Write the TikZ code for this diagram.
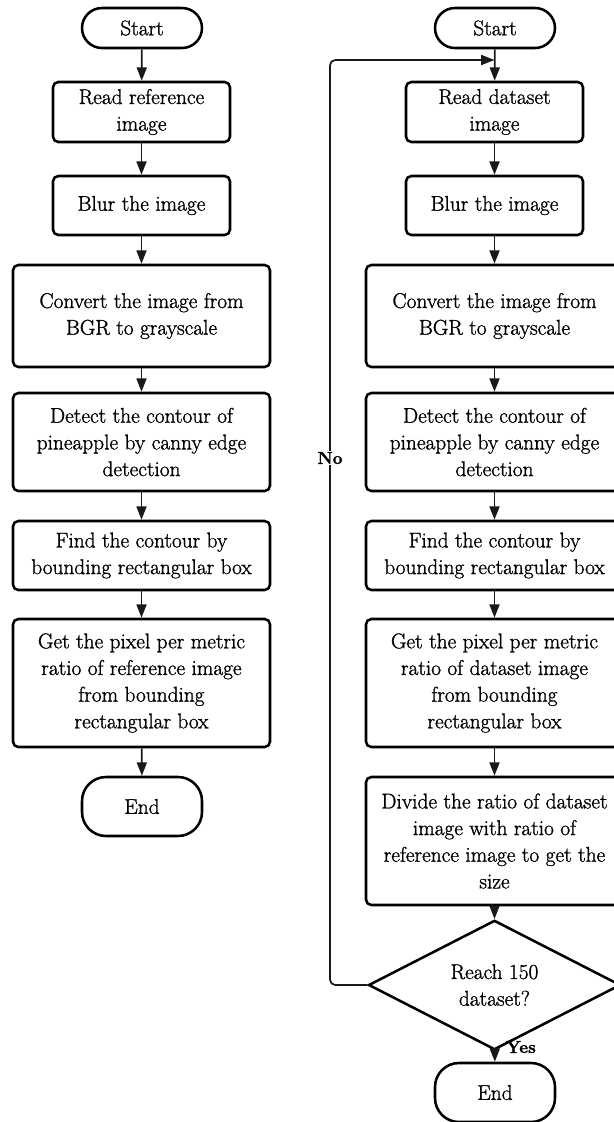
\documentclass[tikz,border=0pt]{standalone}
\usepackage{fontspec}
\usetikzlibrary{arrows.meta,shapes.geometric}
\newfontfamily\boxfont{Latin Modern Roman}[FakeBold=1.2]
\newfontfamily\lblfont{Latin Modern Roman}[FakeBold=1.5]
\newcommand\mfont{\boxfont\fontsize{16}{20}\selectfont}
\newcommand\lfont{\lblfont\fontsize{13}{15}\selectfont\bfseries}
\begin{document}
\begin{tikzpicture}[x=0.75pt,y=-0.75pt,
  pbox/.style={draw=black, line width=1.9pt, rounded corners=4pt, align=center, inner sep=0pt, font=\mfont},
  narrow/.style={pbox, minimum width=132.75pt},
  wide/.style={pbox, minimum width=192.75pt},
  term/.style={pbox, minimum width=90pt},
  decision/.style={draw=black, line width=1.9pt, shape=diamond, minimum width=189pt, minimum height=72pt, inner sep=0pt, align=center, font=\mfont},
  arr/.style={draw=black!90, line width=1.3pt, -{Triangle[length=10pt,width=7.5pt]}},
  lbl/.style={font=\lfont, inner sep=1pt}
]
\useasboundingbox (0,0) rectangle (614,1122);
\clip (0,0) rectangle (614,1122);
% left column
\node[term, minimum height=30pt, rounded corners=15pt] (lstart) at (142,28) {Start};
\node[narrow, minimum height=45pt] (lread) at (141.5,112) {Read reference\\image};
\node[narrow, minimum height=44.25pt] (lblur) at (141.5,205.5) {Blur the image};
\node[wide, minimum height=76.5pt] (lconv) at (141.5,316) {Convert the image from\\BGR to grayscale};
\node[wide, minimum height=73.5pt] (ldet) at (141.5,442) {Detect the contour of\\pineapple by canny edge\\detection};
\node[wide, minimum height=51.75pt] (lfind) at (141.5,555.5) {Find the contour by\\bounding rectangular box};
\node[wide, minimum height=96pt] (lget) at (141.5,683) {Get the pixel per metric\\ratio of reference image\\from bounding\\rectangular box};
\node[term, minimum height=44.25pt, rounded corners=18pt] (lend) at (142,806.5) {End};
\draw[arr] (lstart) -- (lread);
\draw[arr] (lread) -- (lblur);
\draw[arr] (lblur) -- (lconv);
\draw[arr] (lconv) -- (ldet);
\draw[arr] (ldet) -- (lfind);
\draw[arr] (lfind) -- (lget);
\draw[arr] (lget) -- (lend);
% right column
\node[term, minimum height=30pt, rounded corners=15pt] (rstart) at (495,28) {Start};
\node[narrow, minimum height=45pt] (rread) at (494.5,112) {Read dataset\\image};
\node[narrow, minimum height=44.25pt] (rblur) at (494.5,205.5) {Blur the image};
\node[wide, minimum height=76.5pt] (rconv) at (494.5,316) {Convert the image from\\BGR to grayscale};
\node[wide, minimum height=73.5pt] (rdet) at (494.5,442) {Detect the contour of\\pineapple by canny edge\\detection};
\node[wide, minimum height=51.75pt] (rfind) at (494.5,555.5) {Find the contour by\\bounding rectangular box};
\node[wide, minimum height=96pt] (rget) at (494.5,683) {Get the pixel per metric\\ratio of dataset image\\from bounding\\rectangular box};
\node[wide, minimum height=96pt] (rdiv) at (494.5,841) {Divide the ratio of dataset\\image with ratio of\\reference image to get the\\size};
\node[decision] (rdec) at (494.5,985) {Reach 150\\dataset?};
\node[term, minimum height=44.25pt, rounded corners=18pt] (rend) at (495,1092.5) {End};
\coordinate (loopc) at (330,60);
\coordinate (loopin) at (494.5,60);
\draw[arr] (rstart) -- (rread);
\draw[arr] (rread) -- (rblur);
\draw[arr] (rblur) -- (rconv);
\draw[arr] (rconv) -- (rdet);
\draw[arr] (rdet) -- (rfind);
\draw[arr] (rfind) -- (rget);
\draw[arr] (rget) -- (rdiv);
\draw[arr] (rdiv) -- (rdec);
\draw[arr] (rdec) -- (rend);
\draw[arr, rounded corners=4pt] (rdec.west) -| (loopc) -- (loopin);
\node[lbl, fill=white] (nolbl) at (330,458) {No};
\node[lbl] (yeslbl) at (521,1047) {Yes};
\end{tikzpicture}
\end{document}
